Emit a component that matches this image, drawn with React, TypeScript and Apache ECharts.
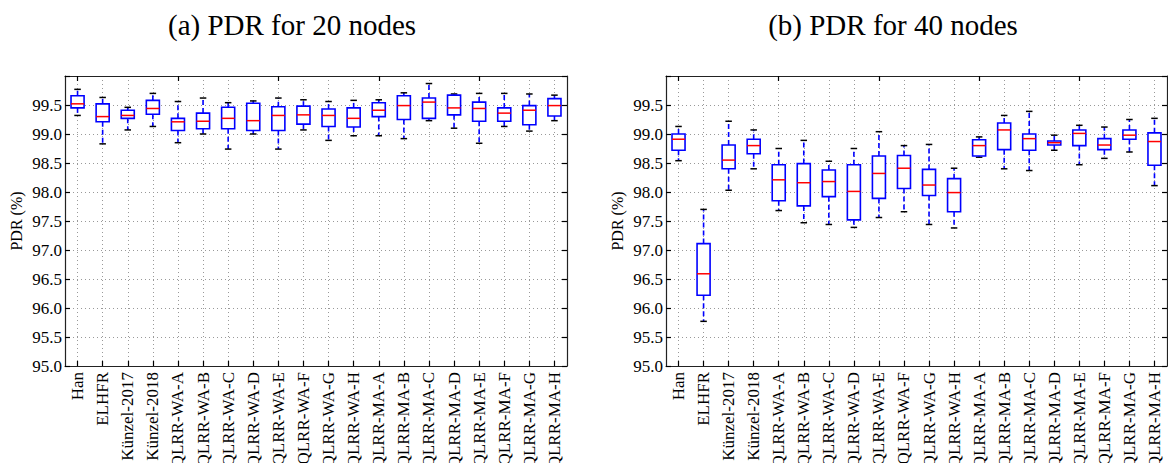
import React, { useEffect, useRef } from "react";
import * as echarts from "echarts";

const categories = [
  "Han", "ELHFR", "Künzel-2017", "Künzel-2018",
  "QLRR-WA-A", "QLRR-WA-B", "QLRR-WA-C", "QLRR-WA-D",
  "QLRR-WA-E", "QLRR-WA-F", "QLRR-WA-G", "QLRR-WA-H",
  "QLRR-MA-A", "QLRR-MA-B", "QLRR-MA-C", "QLRR-MA-D",
  "QLRR-MA-E", "QLRR-MA-F", "QLRR-MA-G", "QLRR-MA-H",
];

// (a) 20 nodes
const n20Lower = [99.32, 98.83, 99.07, 99.13, 98.85, 99.0, 98.74, 99.0, 98.74, 99.07, 98.89, 98.97, 98.97, 98.92, 99.23, 99.1, 98.84, 99.13, 99.05, 99.23];
const n20Q1 = [99.45, 99.21, 99.27, 99.34, 99.06, 99.09, 99.09, 99.06, 99.06, 99.17, 99.13, 99.12, 99.3, 99.25, 99.27, 99.33, 99.22, 99.22, 99.16, 99.31];
const n20Median = [99.52, 99.3, 99.32, 99.44, 99.21, 99.22, 99.27, 99.23, 99.32, 99.33, 99.32, 99.27, 99.41, 99.49, 99.55, 99.45, 99.44, 99.36, 99.41, 99.49];
const n20Q3 = [99.66, 99.52, 99.41, 99.58, 99.27, 99.36, 99.46, 99.53, 99.47, 99.48, 99.43, 99.45, 99.54, 99.66, 99.62, 99.67, 99.55, 99.45, 99.49, 99.61];
const n20Upper = [99.77, 99.63, 99.46, 99.7, 99.56, 99.62, 99.54, 99.57, 99.62, 99.59, 99.56, 99.58, 99.59, 99.71, 99.87, 99.69, 99.7, 99.7, 99.69, 99.67];

// (b) 40 nodes
const n40Lower = [98.54, 95.77, 98.03, 98.4, 97.68, 97.47, 97.44, 97.39, 97.56, 97.66, 97.44, 97.38, 98.6, 98.4, 98.37, 98.72, 98.47, 98.58, 98.69, 98.11];
const n40Q1 = [98.72, 96.22, 98.4, 98.66, 97.85, 97.76, 97.92, 97.52, 97.89, 98.06, 97.94, 97.66, 98.62, 98.73, 98.72, 98.81, 98.8, 98.73, 98.91, 98.46];
const n40Median = [98.91, 96.59, 98.55, 98.8, 98.21, 98.16, 98.18, 98.01, 98.32, 98.41, 98.12, 97.99, 98.8, 99.07, 98.92, 98.85, 99.01, 98.81, 98.98, 98.87];
const n40Q3 = [99.0, 97.11, 98.81, 98.91, 98.47, 98.49, 98.38, 98.47, 98.62, 98.63, 98.39, 98.23, 98.9, 99.19, 99.0, 98.88, 99.07, 98.92, 99.07, 99.02];
const n40Upper = [99.13, 97.7, 99.22, 99.07, 98.75, 98.89, 98.53, 98.75, 99.04, 98.8, 98.82, 98.41, 98.95, 99.32, 99.39, 98.98, 99.15, 99.12, 99.25, 99.27];

const titles = ["(a) PDR for 20 nodes", "(b) PDR for 40 nodes"];
const yName = "PDR (%)";

const FONT = "Liberation Serif";

function buildData(lo: number[], q1: number[], med: number[], q3: number[], up: number[]) {
  return categories.map((_, i) => [i, lo[i], q1[i], med[i], q3[i], up[i]]);
}

const renderBox = (params: any, api: any) => {
  const x = api.value(0);
  const band = api.size([1, 0])[0];
  const pLo = api.coord([x, api.value(1)]);
  const pQ1 = api.coord([x, api.value(2)]);
  const pMed = api.coord([x, api.value(3)]);
  const pQ3 = api.coord([x, api.value(4)]);
  const pUp = api.coord([x, api.value(5)]);
  const cx = pMed[0];
  const halfBox = band * 0.26;
  const halfCap = band * 0.13;
  const blue = "#0000ff";
  return {
    type: "group",
    children: [
      { type: "line", shape: { x1: cx, y1: pQ3[1], x2: cx, y2: pUp[1] }, style: { stroke: blue, lineWidth: 1.6, lineDash: [5, 3] } },
      { type: "line", shape: { x1: cx, y1: pQ1[1], x2: cx, y2: pLo[1] }, style: { stroke: blue, lineWidth: 1.6, lineDash: [5, 3] } },
      { type: "line", shape: { x1: cx - halfCap, y1: pUp[1], x2: cx + halfCap, y2: pUp[1] }, style: { stroke: "#000", lineWidth: 1.5 } },
      { type: "line", shape: { x1: cx - halfCap, y1: pLo[1], x2: cx + halfCap, y2: pLo[1] }, style: { stroke: "#000", lineWidth: 1.5 } },
      { type: "rect", shape: { x: cx - halfBox, y: pQ3[1], width: halfBox * 2, height: pQ1[1] - pQ3[1] }, style: { fill: "#fff", stroke: blue, lineWidth: 1.6 } },
      { type: "line", shape: { x1: cx - halfBox, y1: pMed[1], x2: cx + halfBox, y2: pMed[1] }, style: { stroke: "#ff0000", lineWidth: 1.5 } },
    ],
  };
};

export default function App() {
  const ref = useRef<HTMLDivElement>(null);
  useEffect(() => {
    document.body.style.margin = "0";
    if (!ref.current) return;
    const chart = echarts.init(ref.current, undefined, { renderer: "svg" });
    const grids = [
      { left: 65, top: 76, width: 502, height: 290, outerBoundsMode: "none", containLabel: false },
      { left: 666, top: 76, width: 501, height: 290, outerBoundsMode: "none", containLabel: false },
    ];
    const lineStyle = { color: "#222", width: 1.2 };
    const xAxes: any[] = [];
    const yAxes: any[] = [];
    [0, 1].forEach((g) => {
      xAxes.push({
        type: "category",
        gridIndex: g,
        data: categories,
        boundaryGap: true,
        axisLine: { show: true, lineStyle },
        axisTick: { show: true, inside: true, alignWithLabel: true, length: 5, lineStyle: { color: "#000", width: 1.2 } },
        axisLabel: { interval: 0, rotate: 90, margin: 6, fontFamily: FONT, fontSize: 17, color: "#000" },
        splitLine: { show: true, alignWithLabel: true, lineStyle: { color: "#999", type: [1, 3], width: 1 } },
      });
      xAxes.push({
        type: "category",
        gridIndex: g,
        position: "top",
        data: categories,
        boundaryGap: true,
        axisLine: { show: true, lineStyle },
        axisTick: { show: true, inside: true, alignWithLabel: true, length: 5, lineStyle: { color: "#000", width: 1.2 } },
        axisLabel: { show: false },
        splitLine: { show: false },
      });
      yAxes.push({
        type: "value",
        gridIndex: g,
        min: 95,
        max: 100,
        interval: 0.5,
        name: yName,
        nameLocation: "middle",
        nameRotate: 90,
        nameGap: 41,
        nameTextStyle: { fontFamily: FONT, fontSize: 16, color: "#000" },
        axisLine: { show: true, lineStyle },
        axisTick: { show: true, inside: true, length: 5, lineStyle: { color: "#000", width: 1.2 } },
        axisLabel: {
          fontFamily: FONT, fontSize: 17, color: "#000", margin: 3,
          formatter: (v: number) => (v >= 100 ? "" : v.toFixed(1)),
        },
        splitLine: { show: true, lineStyle: { color: "#999", type: [1, 3], width: 1 } },
      });
      yAxes.push({
        type: "value",
        gridIndex: g,
        position: "right",
        min: 95,
        max: 100,
        interval: 0.5,
        axisLine: { show: true, lineStyle },
        axisTick: { show: true, inside: true, length: 5, lineStyle: { color: "#000", width: 1.2 } },
        axisLabel: { show: false },
        splitLine: { show: false },
      });
    });
    chart.setOption({
      animation: false,
      backgroundColor: "#fff",
      title: [
        { text: titles[0], left: 287, top: 5, textAlign: "center", textStyle: { fontFamily: FONT, fontSize: 29, fontWeight: "normal", color: "#000" } },
        { text: titles[1], left: 888, top: 5, textAlign: "center", textStyle: { fontFamily: FONT, fontSize: 29, fontWeight: "normal", color: "#000" } },
      ],
      grid: grids,
      xAxis: xAxes,
      yAxis: yAxes,
      series: [
        {
          type: "custom",
          xAxisIndex: 0,
          yAxisIndex: 0,
          renderItem: renderBox,
          encode: { x: 0, y: [1, 2, 3, 4, 5] },
          data: buildData(n20Lower, n20Q1, n20Median, n20Q3, n20Upper),
          z: 5,
        },
        {
          type: "custom",
          xAxisIndex: 2,
          yAxisIndex: 2,
          renderItem: renderBox,
          encode: { x: 0, y: [1, 2, 3, 4, 5] },
          data: buildData(n40Lower, n40Q1, n40Median, n40Q3, n40Upper),
          z: 5,
        },
      ],
    });
    return () => chart.dispose();
  }, []);
  return <div ref={ref} style={{ width: 1168, height: 463 }} />;
}
